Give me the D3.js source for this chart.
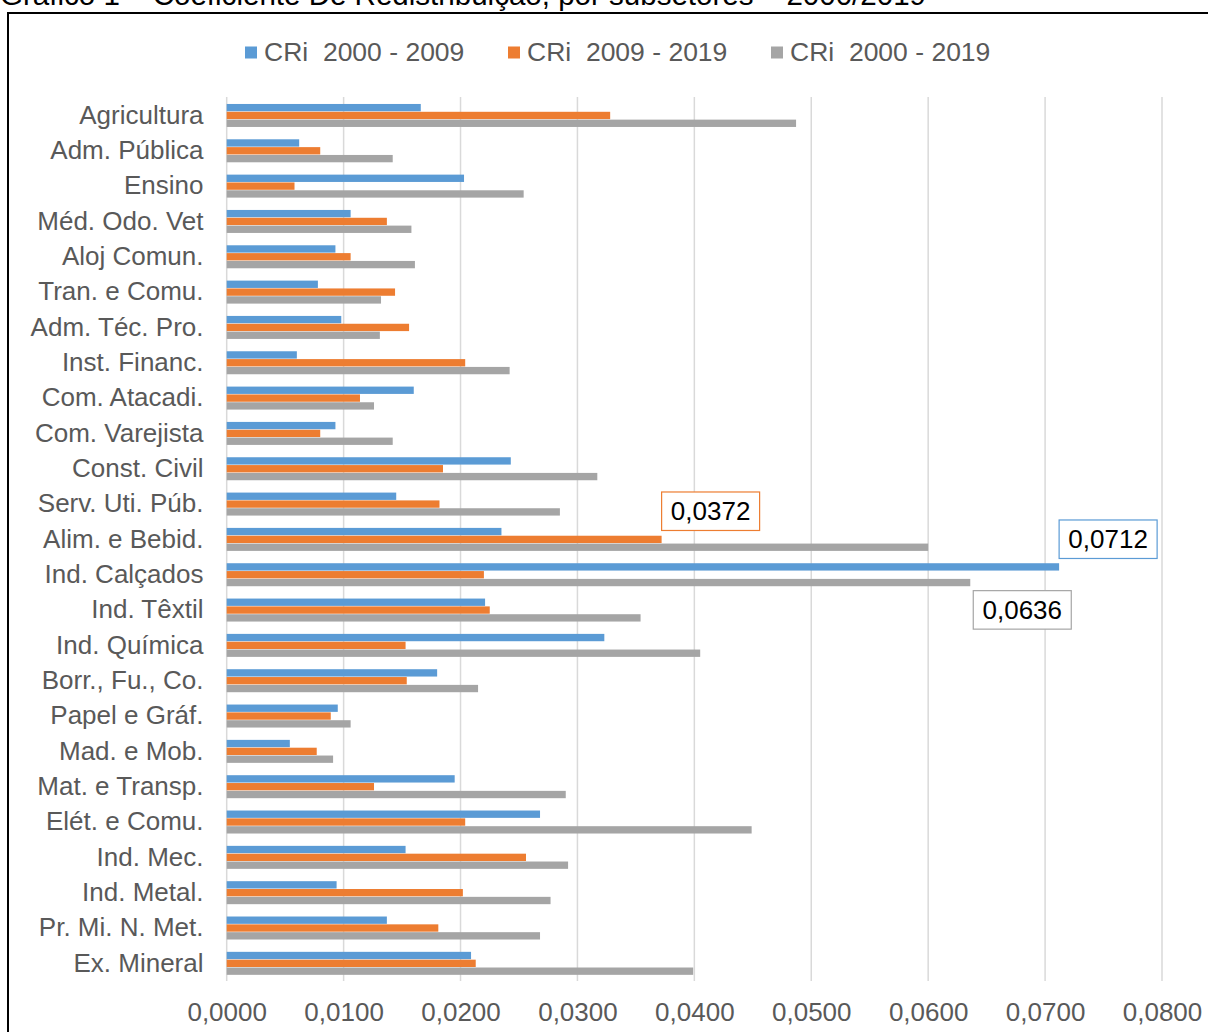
<!DOCTYPE html>
<html>
<head>
<meta charset="utf-8">
<script src="https://cdn.jsdelivr.net/npm/d3@7"></script>
<style>
  html, body { margin: 0; padding: 0; background: #fff; }
  svg { display: block; font-family: "Liberation Sans", Arial, sans-serif; }
</style>
</head>
<body>
<svg id="chart" width="1208" height="1032"></svg>
<script>
const title = "Gráfico 1 – Coeficiente De Redistribuição, por subsetores – 2000/2019";
const categories = ["Agricultura","Adm. Pública","Ensino","Méd. Odo. Vet","Aloj Comun.","Tran. e Comu.","Adm. Téc. Pro.","Inst. Financ.","Com. Atacadi.","Com. Varejista","Const. Civil","Serv. Uti. Púb.","Alim. e Bebid.","Ind. Calçados","Ind. Têxtil","Ind. Química","Borr., Fu., Co.","Papel e Gráf.","Mad. e Mob.","Mat. e Transp.","Elét. e Comu.","Ind. Mec.","Ind. Metal.","Pr. Mi. N. Met.","Ex. Mineral"];
const seriesNames = ["CRi  2000 - 2009","CRi  2009 - 2019","CRi  2000 - 2019"];
const cri2000_2009 = [0.0166,0.0062,0.0203,0.0106,0.0093,0.0078,0.0098,0.0060,0.0160,0.0093,0.0243,0.0145,0.0235,0.0712,0.0221,0.0323,0.0180,0.0095,0.0054,0.0195,0.0268,0.0153,0.0094,0.0137,0.0209];
const cri2009_2019 = [0.0328,0.0080,0.0058,0.0137,0.0106,0.0144,0.0156,0.0204,0.0114,0.0080,0.0185,0.0182,0.0372,0.0220,0.0225,0.0153,0.0154,0.0089,0.0077,0.0126,0.0204,0.0256,0.0202,0.0181,0.0213];
const cri2000_2019 = [0.0487,0.0142,0.0254,0.0158,0.0161,0.0132,0.0131,0.0242,0.0126,0.0142,0.0317,0.0285,0.0600,0.0636,0.0354,0.0405,0.0215,0.0106,0.0091,0.0290,0.0449,0.0292,0.0277,0.0268,0.0399];
const tickValues = [0,0.01,0.02,0.03,0.04,0.05,0.06,0.07,0.08];
const colors = ["#5b9bd5","#ed7d31","#a5a5a5"];
// labelled points: [series index, category]
const labelled = [[1,"Alim. e Bebid."],[0,"Ind. Calçados"],[2,"Ind. Calçados"]];

const seriesValues = [cri2000_2009, cri2009_2019, cri2000_2019];
const fmt = v => d3.format(".4f")(v).replace(".", ",");

const svg = d3.select("#chart");

// title (clipped at top, as in the source image) and frame
svg.append("text").attr("x", 0).attr("y", 5)
  .attr("font-size", 29).attr("fill", "#000")
  .attr("textLength", 926).attr("lengthAdjust", "spacingAndGlyphs")
  .text(title);
svg.append("rect").attr("x", 8).attr("y", 13).attr("width", 1220).attr("height", 1040)
  .attr("fill", "none").attr("stroke", "#000").attr("stroke-width", 2);

const x = d3.scaleLinear().domain([0, 0.08]).range([226.7, 1162]);
const y = d3.scaleBand().domain(categories).range([97.8, 981]).paddingInner(0.335).paddingOuter(0.1675);
const ySub = d3.scaleBand().domain([0,1,2]).range([0, y.bandwidth()]);

// gridlines
svg.append("g").selectAll("line").data(tickValues).join("line")
  .attr("x1", d => x(d)).attr("x2", d => x(d))
  .attr("y1", 97).attr("y2", 981)
  .attr("stroke", "#d9d9d9").attr("stroke-width", 1.5);

// x axis labels
const xAxis = d3.axisBottom(x).tickValues(tickValues).tickFormat(fmt).tickSize(0).tickPadding(0);
const gx = svg.append("g").attr("transform", "translate(0,1000)").call(xAxis);
gx.select(".domain").remove();
gx.selectAll("text").attr("font-size", 26).attr("fill", "#595959")
  .attr("font-family", "'Liberation Sans', Arial, sans-serif").attr("dy", "0.8em");

// y axis labels
const yAxis = d3.axisLeft(y).tickSize(0).tickPadding(0);
const gy = svg.append("g").attr("transform", "translate(203.5,0)").call(yAxis);
gy.select(".domain").remove();
gy.selectAll("text").attr("font-size", 26).attr("fill", "#595959")
  .attr("font-family", "'Liberation Sans', Arial, sans-serif");

// bars
const groups = svg.append("g").selectAll("g").data(categories).join("g")
  .attr("transform", d => `translate(0,${y(d)})`);
groups.selectAll("rect").data((c, i) => seriesValues.map((s, k) => ({k, v: s[i], c})))
  .join("rect")
  .attr("x", x(0))
  .attr("y", d => ySub(d.k) + 0.25)
  .attr("height", ySub.bandwidth() - 0.5)
  .attr("width", d => x(d.v) - x(0))
  .attr("fill", d => colors[d.k]);

// data labels
const boxW = 98, boxH = 38.5;
const offsets = [ {dx: 0, dy: -43.5}, {dx: 0, dy: -43}, {dx: 3, dy: 12} ];
labelled.forEach(([k, c], idx) => {
  const i = categories.indexOf(c);
  const v = seriesValues[k][i];
  const bx = x(v) + offsets[idx].dx;
  const barY = y(c) + ySub(k);
  const by = barY + offsets[idx].dy;
  const g = svg.append("g");
  g.append("rect").attr("x", bx).attr("y", by).attr("width", boxW).attr("height", boxH)
    .attr("fill", "#fff").attr("stroke", colors[k]).attr("stroke-width", 1.2);
  g.append("text").attr("x", bx + boxW / 2).attr("y", by + boxH / 2)
    .attr("dy", "0.35em").attr("text-anchor", "middle")
    .attr("font-size", 26).attr("fill", "#000").text(fmt(v));
});

// legend
const legendX = [245, 508, 771];
const lg = svg.append("g");
seriesNames.forEach((n, k) => {
  lg.append("rect").attr("x", legendX[k]).attr("y", 46.5).attr("width", 12).attr("height", 12).attr("fill", colors[k]);
  lg.append("text").attr("x", legendX[k] + 19).attr("y", 52).attr("dy", "0.35em")
    .attr("font-size", 26.5).attr("fill", "#595959").style("white-space", "pre").text(n);
});
</script>
</body>
</html>
